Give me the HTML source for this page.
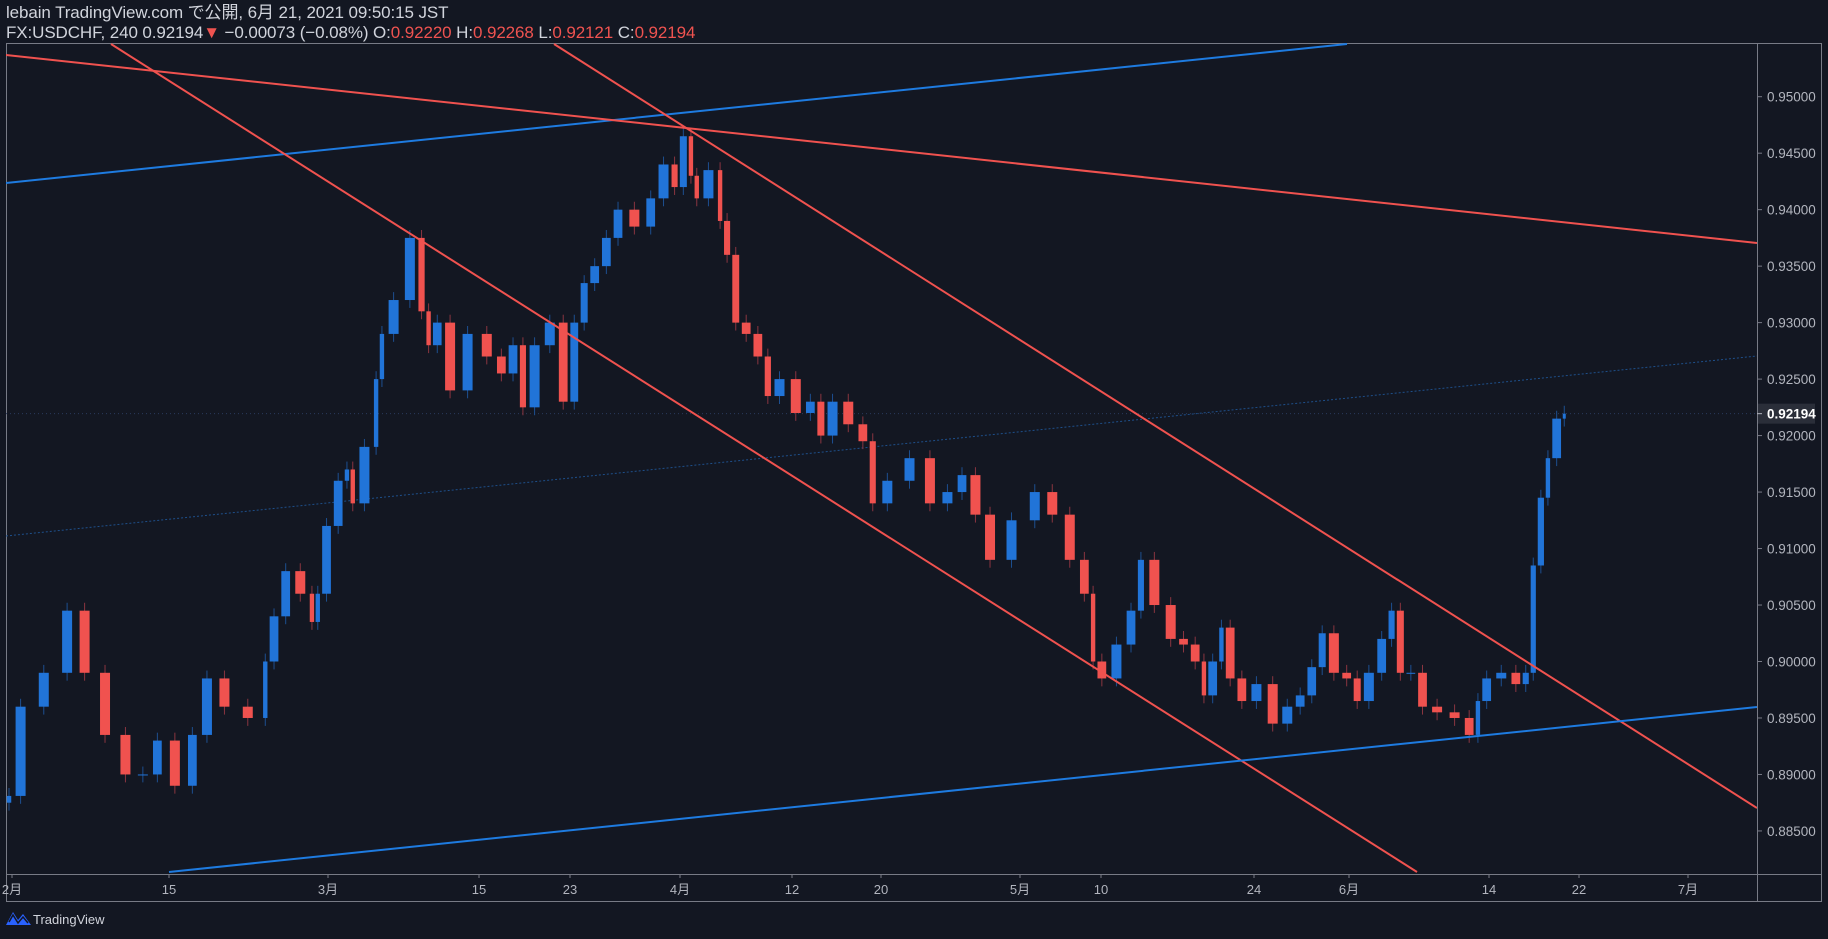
<!DOCTYPE html>
<html><head><meta charset="utf-8">
<style>
html,body{margin:0;padding:0;background:#131722;width:1828px;height:939px;overflow:hidden}
body{font-family:"Liberation Sans","Noto Sans CJK JP",sans-serif;color:#d1d4dc}
#hdr{position:absolute;left:6px;top:3px;font-size:17px;line-height:20px;letter-spacing:-0.1px}
.r{color:#ef5350}
svg{position:absolute;left:0;top:0}
</style></head><body>
<div id="hdr">
<div>lebain TradingView.com で公開, 6月 21, 2021 09:50:15 JST</div>
<div>FX:USDCHF, 240 0.92194<span class="r">▼</span> −0.00073 (−0.08%) O:<span class="r">0.92220</span> H:<span class="r">0.92268</span> L:<span class="r">0.92121</span> C:<span class="r">0.92194</span></div>
</div>
<svg id="chart" width="1828" height="939"></svg>
<script>
const days=[0,1.12,3.02,4.16,5.30,6.82,7.96,9.09,9.85,11.37,12.13,13.27,14.41,16.31,16.69,17.45,18.21,19.35,19.73,20.11,20.87,21.63,22.01,22.39,23.53,23.91,24.29,25.43,26.41,26.95,27.33,28.08,29.0,30.36,31.50,32.26,33.02,33.55,34.54,35.53,36.29,36.97,37.58,38.34,39.10,39.86,41.23,41.99,42.90,43.43,44.04,44.42,44.80,45.94,46.32,46.85,47.45,48.21,48.97,49.51,50.49,51.63,52.39,53.0,53.91,55.05,55.81,56.34,57.71,59.23,60.37,61.51,62.27,63.26,64.17,66.06,67.20,68.34,69.48,70.24,70.62,71.38,72.52,73.28,73.81,75.03,75.94,76.70,77.46,77.84,78.60,78.98,79.74,80.50,81.64,82.62,83.54,84.30,85.05,85.66,86.57,87.33,87.94,88.85,89.61,90.14,90.75,91.51,92.27,93.41,94.55,95.31,95.69,96.45,97.59,98.35,98.88,99.33,99.87,100.25,101.01,101.24];
const closes=[0.8881,0.896,0.899,0.9045,0.899,0.8935,0.890,0.890,0.893,0.889,0.8935,0.8985,0.896,0.895,0.900,0.904,0.908,0.906,0.9035,0.906,0.912,0.916,0.917,0.914,0.919,0.925,0.929,0.932,0.9375,0.931,0.928,0.930,0.924,0.929,0.927,0.9255,0.928,0.9225,0.928,0.930,0.923,0.930,0.9335,0.935,0.9375,0.940,0.9385,0.941,0.944,0.942,0.9465,0.943,0.941,0.9435,0.939,0.936,0.930,0.929,0.927,0.9235,0.925,0.922,0.923,0.920,0.923,0.921,0.9195,0.914,0.916,0.918,0.914,0.915,0.9165,0.913,0.909,0.9125,0.915,0.913,0.909,0.906,0.900,0.8985,0.9015,0.9045,0.909,0.905,0.902,0.9015,0.900,0.897,0.900,0.903,0.8985,0.8965,0.898,0.8945,0.896,0.897,0.8995,0.9025,0.899,0.8985,0.8965,0.899,0.902,0.9045,0.899,0.899,0.896,0.8955,0.895,0.8935,0.8965,0.8985,0.899,0.898,0.899,0.9085,0.9145,0.918,0.9215,0.92194];
const priceTicks=[0.95,0.945,0.94,0.935,0.93,0.925,0.92,0.915,0.91,0.905,0.90,0.895,0.89,0.885];
const timeLabels=["2月","15","3月","15","23","4月","12","20","5月","10","24","6月","14","22","7月"];
const timeLabelX=[12,169,328,479,570,680,792,881,1020,1101,1254,1349,1489,1579,1688];
const lastPrice=0.92194;

const NS="http://www.w3.org/2000/svg";
const svg=document.getElementById('chart');
const X0=6,XR=1757,YT=43,YB=874;
const yS=p=>96.7+(0.95-p)/0.005*56.48;
const xS=d=>12+d*15.35;
function mk(t,a,parent){const e=document.createElementNS(NS,t);for(const k in a)e.setAttribute(k,a[k]);(parent||svg).appendChild(e);return e;}
const defs=mk('defs',{});
const cp=mk('clipPath',{id:'pane'},defs);
mk('rect',{x:X0,y:YT,width:XR-X0,height:YB-YT},cp);

const frame=mk('g',{});


mk('rect',{x:6.5,y:43.5,width:1815,height:858,fill:'none',stroke:'#787b86','stroke-width':1},frame);
mk('line',{x1:XR+0.5,y1:43,x2:XR+0.5,y2:902,stroke:'#787b86'},frame);
mk('line',{x1:6,y1:YB+0.5,x2:1822,y2:YB+0.5,stroke:'#787b86'},frame);

const pa=mk('g',{});


priceTicks.forEach(p=>{
  const y=yS(p);
  mk('line',{x1:XR,y1:y,x2:XR+5,y2:y,stroke:'#787b86'},pa);
  const t=mk('text',{x:1767,y:y+5,fill:'#b2b5be','font-size':'13.5','font-family':'Liberation Sans, sans-serif'},pa);
  
  
  t.textContent=p.toFixed(5);
});
const ta=mk('g',{});


timeLabels.forEach((l,i)=>{
  const x=timeLabelX[i];
  mk('line',{x1:x,y1:YB,x2:x,y2:YB+4,stroke:'#787b86'},ta);
  const t=mk('text',{x:x,y:894,fill:'#b2b5be','font-size':'13','text-anchor':'middle','font-family':'Liberation Sans, Noto Sans CJK JP, sans-serif'},ta);
  
  
  t.textContent=l;
});

const pane=mk('g',{'clip-path':'url(#pane)'});
const fl=mk('line',{x1:6,y1:536,x2:1757,y2:356,stroke:'#1e4f8a','stroke-width':1,'stroke-dasharray':'2 2'},pane);


const lp=mk('line',{x1:6,y1:yS(lastPrice),x2:XR,y2:yS(lastPrice),stroke:'#2a3a5c','stroke-width':1,'stroke-dasharray':'1 3'},pane);



const cg=mk('g',{},pane);


for(let i=0;i<closes.length;i++){
  const o=i===0?0.8875:closes[i-1],c=closes[i];
  const xPrev=i===0?xS(days[0])-6:xS(days[i-1]);
  const x1=xS(days[i]);
  const xm=(xPrev+x1)/2;
  const bw=Math.max(3,Math.min(10,(x1-xPrev)*0.75));
  const up=c>=o,col=up?'#2174d8':'#f0524f';
  const yo=yS(o),yc=yS(c);
  const hi=Math.max(o,c)+0.0007,lo=Math.min(o,c)-0.0007;
  const w=mk('line',{x1:xm,y1:yS(hi),x2:xm,y2:yS(lo),stroke:up?'#1d4f90':'#8a3540','stroke-width':1},cg);
  
  
  const b=mk('rect',{x:xm-bw/2,y:Math.min(yo,yc),width:bw,height:Math.max(1,Math.abs(yc-yo)),fill:col},cg);
  
  
}

const lines=[
 ['upper-blue-trendline','#1e7be0',6,183,1347,44],
 ['long-red-trendline','#f0524f',6,55,1757,243],
 ['lower-red-channel-line','#f0524f',111,44,1417,872],
 ['upper-red-channel-line','#f0524f',554,44,1757,808],
 ['lower-blue-trendline','#1e7be0',169,872,1757,707]
];
lines.forEach(l=>{
  const e=mk('line',{x1:l[2],y1:l[3],x2:l[4],y2:l[5],stroke:l[1],'stroke-width':2},pane);
  
  
});

const lb=mk('g',{});


const ly=yS(lastPrice);
mk('rect',{x:1758,y:ly-10,width:57,height:20,fill:'#2a2e39'},lb);
mk('line',{x1:XR,y1:ly,x2:XR+5,y2:ly,stroke:'#b2b5be'},lb);
const lt=mk('text',{x:1767,y:ly+5,fill:'#ffffff','font-size':'13.5','font-weight':'bold','font-family':'Liberation Sans, sans-serif'},lb);
lt.textContent=lastPrice.toFixed(5);

const lg=mk('g',{});


mk('path',{d:'M6 925 L13 912 L18 920 L23 914 L31 925 Z',fill:'#2962ff'},lg);
mk('path',{d:'M9 922 L13 915 L18 923 L23 917 L28 923',fill:'none',stroke:'#131722','stroke-width':1.5},lg);
const lgt=mk('text',{x:33,y:924,fill:'#d1d4dc','font-size':'13','font-family':'Liberation Sans, sans-serif'},lg);
lgt.textContent='TradingView';
</script>
</body></html>
